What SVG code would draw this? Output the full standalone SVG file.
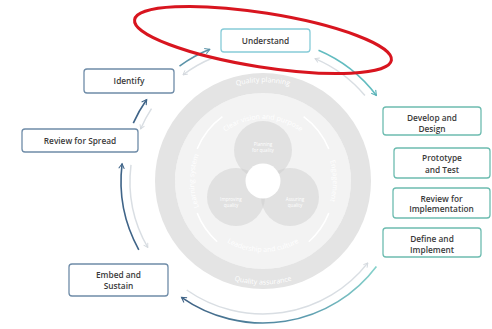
<svg xmlns="http://www.w3.org/2000/svg" width="492" height="329" viewBox="0 0 492 329">
  <style>
    .box { fill: #ffffff; stroke-width: 1.3; }
    .cyan { stroke: #86cbd8; }
    .teal { stroke: #6dbcb0; }
    .slate { stroke: #6f8ca8; }
    .lbl { font-family: "Open Sans", "Liberation Sans", sans-serif; font-weight: 600; font-size: 8.3px; fill: #3a3a3a; text-anchor: middle; }
    .ring-txt { font-family: "Open Sans", "Liberation Sans", sans-serif; font-size: 7px; fill: #ffffff; }
    .venn-txt { font-family: "Open Sans", "Liberation Sans", sans-serif; font-size: 4.6px; fill: #ffffff; text-anchor: middle; }
    .fwd { fill: none; stroke-width: 1.6; }
    .back { fill: none; stroke: #d9dee3; stroke-width: 1.5; }
  </style>
  <defs>
    <marker id="ah-blue" viewBox="0 0 10 10" refX="8" refY="5" markerWidth="7" markerHeight="7" orient="auto" markerUnits="userSpaceOnUse">
      <path d="M1,1 L8,5 L1,9" fill="none" stroke="#3f6488" stroke-width="1.5"/>
    </marker>
    <marker id="ah-tealblue" viewBox="0 0 10 10" refX="8" refY="5" markerWidth="7" markerHeight="7" orient="auto" markerUnits="userSpaceOnUse">
      <path d="M1,1 L8,5 L1,9" fill="none" stroke="#5b93a8" stroke-width="1.5"/>
    </marker>
    <marker id="ah-teal" viewBox="0 0 10 10" refX="8" refY="5" markerWidth="7" markerHeight="7" orient="auto" markerUnits="userSpaceOnUse">
      <path d="M1,1 L8,5 L1,9" fill="none" stroke="#55aeb4" stroke-width="1.5"/>
    </marker>
    <marker id="ah-grey" viewBox="0 0 10 10" refX="8" refY="5" markerWidth="6" markerHeight="6" orient="auto" markerUnits="userSpaceOnUse">
      <path d="M1,1 L8,5 L1,9" fill="none" stroke="#d3d8dd" stroke-width="1.5"/>
    </marker>
    <linearGradient id="grad-bottom" x1="181" y1="0" x2="377" y2="0" gradientUnits="userSpaceOnUse">
      <stop offset="0" stop-color="#3d5f82"/>
      <stop offset="0.6" stop-color="#5a98ad"/>
      <stop offset="1" stop-color="#86d2cb"/>
    </linearGradient>
    <!-- text baselines of the wheel -->
    <path id="p-outer-top" d="M180,128 A98,98 0 0 1 346,128"/>
    <path id="p-outer-bot" d="M183,247 A104,104 0 0 0 343,247"/>
    <path id="p-in-top" d="M209.3,150 A62,62 0 0 1 316.7,150"/>
    <path id="p-in-bot" d="M201.5,216.5 A71,71 0 0 0 324.5,216.5"/>
    <path id="p-in-left" d="M210.1,225.4 A69,69 0 0 1 210.1,136.6"/>
    <path id="p-in-right" d="M316.6,136 A70,70 0 0 1 316.6,226"/>
  </defs>

  <!-- central quality wheel -->
  <g id="wheel">
    <circle cx="263" cy="181" r="88" fill="#f3f3f3"/>
    <circle cx="263" cy="181" r="98" fill="none" stroke="#e4e4e4" stroke-width="20"/>
    <text class="ring-txt"><textPath href="#p-outer-top" startOffset="50%" text-anchor="middle">Quality planning</textPath></text>
    <text class="ring-txt"><textPath href="#p-outer-bot" startOffset="50%" text-anchor="middle">Quality assurance</textPath></text>
    <g fill="none" stroke="#ffffff" stroke-width="1.5">
      <path d="M197.2,213.1 A76,76 0 0 0 217.2,241.7"/>
      <path d="M308.8,241.7 A76,76 0 0 0 328.8,213.1"/>
      <path d="M197.2,148.9 A76,76 0 0 1 222.4,116.7"/>
      <path d="M303.6,116.7 A76,76 0 0 1 328.8,148.9"/>
    </g>
    <text class="ring-txt"><textPath href="#p-in-top" startOffset="50%" text-anchor="middle">Clear vision and purpose</textPath></text>
    <text class="ring-txt"><textPath href="#p-in-bot" startOffset="50%" text-anchor="middle">Leadership and culture</textPath></text>
    <text class="ring-txt"><textPath href="#p-in-left" startOffset="50%" text-anchor="middle">Learning system</textPath></text>
    <text class="ring-txt"><textPath href="#p-in-right" startOffset="50%" text-anchor="middle">Engagement</textPath></text>
    <g fill="#cdcdcd" fill-opacity="0.48">
      <circle cx="263" cy="150" r="29"/>
      <circle cx="236" cy="197" r="29"/>
      <circle cx="290" cy="197" r="29"/>
    </g>
    <circle cx="263" cy="181" r="17.5" fill="#ffffff"/>
    <text class="venn-txt" x="263" y="146">Planning</text>
    <text class="venn-txt" x="263" y="152">for quality</text>
    <text class="venn-txt" x="231" y="201">Improving</text>
    <text class="venn-txt" x="231" y="207">quality</text>
    <text class="venn-txt" x="295" y="201">Assuring</text>
    <text class="venn-txt" x="295" y="207">quality</text>
    <text class="venn-txt" x="263" y="180" fill="#d6d6d6">Learning</text>
    <text class="venn-txt" x="263" y="186" fill="#d6d6d6">system</text>
  </g>

  <!-- cycle connectors: forward arcs (r=142) and return arcs (r=133) -->
  <g id="connectors">
    <path class="back" d="M213.2,57.7 A133,133 0 0 0 183,74.8" marker-end="url(#ah-grey)"/>
    <path class="back" d="M364.9,95.5 A133,133 0 0 0 315,58.6" marker-end="url(#ah-grey)"/>
    <path class="back" d="M186.7,290 A133,133 0 0 0 367.8,262.9" marker-end="url(#ah-grey)"/>
    <path class="back" d="M131,164.8 A133,133 0 0 0 147.8,247.5" marker-end="url(#ah-grey)"/>
    <path class="back" d="M151.5,108.6 A133,133 0 0 0 140.6,129" marker-end="url(#ah-grey)"/>

    <path class="fwd" stroke="#5b93a8" d="M179.5,66.1 A142,142 0 0 1 209.8,49.3" marker-end="url(#ah-tealblue)"/>
    <path class="fwd" stroke="#62bcc0" d="M318.5,50.3 A142,142 0 0 1 376.4,95.5" marker-end="url(#ah-teal)"/>
    <path class="fwd" stroke="url(#grad-bottom)" d="M376.4,266.5 A142,142 0 0 1 181.5,297.3" marker-end="url(#ah-blue)"/>
    <path class="fwd" stroke="#3f6488" d="M138.8,249.8 A142,142 0 0 1 122.1,163.7" marker-end="url(#ah-blue)"/>
    <path class="fwd" stroke="#3f6488" d="M133.3,123.2 A142,142 0 0 1 146.7,99.5" marker-end="url(#ah-blue)"/>
  </g>

  <g id="understand">
    <rect class="box cyan" x="221" y="29" width="89" height="23" rx="3"/>
    <text class="lbl" x="265.5" y="43.5">Understand</text>
  </g>
  <g id="identify">
    <rect class="box slate" x="84" y="69" width="90" height="24" rx="3"/>
    <text class="lbl" x="129" y="84">Identify</text>
  </g>
  <g id="review-spread">
    <rect class="box slate" x="22" y="129" width="116" height="23" rx="3"/>
    <text class="lbl" x="80" y="143.5">Review for Spread</text>
  </g>
  <g id="embed-sustain">
    <rect class="box slate" x="69" y="264" width="99" height="32" rx="3"/>
    <text class="lbl" x="118.5" y="278">Embed and</text>
    <text class="lbl" x="118.5" y="289">Sustain</text>
  </g>
  <g id="develop-design">
    <rect class="box teal" x="383" y="107" width="98" height="28" rx="3"/>
    <text class="lbl" x="432" y="121">Develop and</text>
    <text class="lbl" x="432" y="131.5">Design</text>
  </g>
  <g id="prototype-test">
    <rect class="box teal" x="394" y="148" width="96" height="30" rx="3"/>
    <text class="lbl" x="442" y="161">Prototype</text>
    <text class="lbl" x="442" y="172.5">and Test</text>
  </g>
  <g id="review-implementation">
    <rect class="box teal" x="393" y="188" width="97" height="30" rx="3"/>
    <text class="lbl" x="441.5" y="201.5">Review for</text>
    <text class="lbl" x="441.5" y="212">Implementation</text>
  </g>
  <g id="define-implement">
    <rect class="box teal" x="383" y="228" width="98" height="29" rx="3"/>
    <text class="lbl" x="432" y="241.5">Define and</text>
    <text class="lbl" x="432" y="252.5">Implement</text>
  </g>

  <!-- red highlight round the Understand stage -->
  <g id="highlight">
    <ellipse cx="263" cy="40" rx="130" ry="27" transform="rotate(9 263 40)" fill="none" stroke="#d8151f" stroke-width="3"/>
  </g>
</svg>
